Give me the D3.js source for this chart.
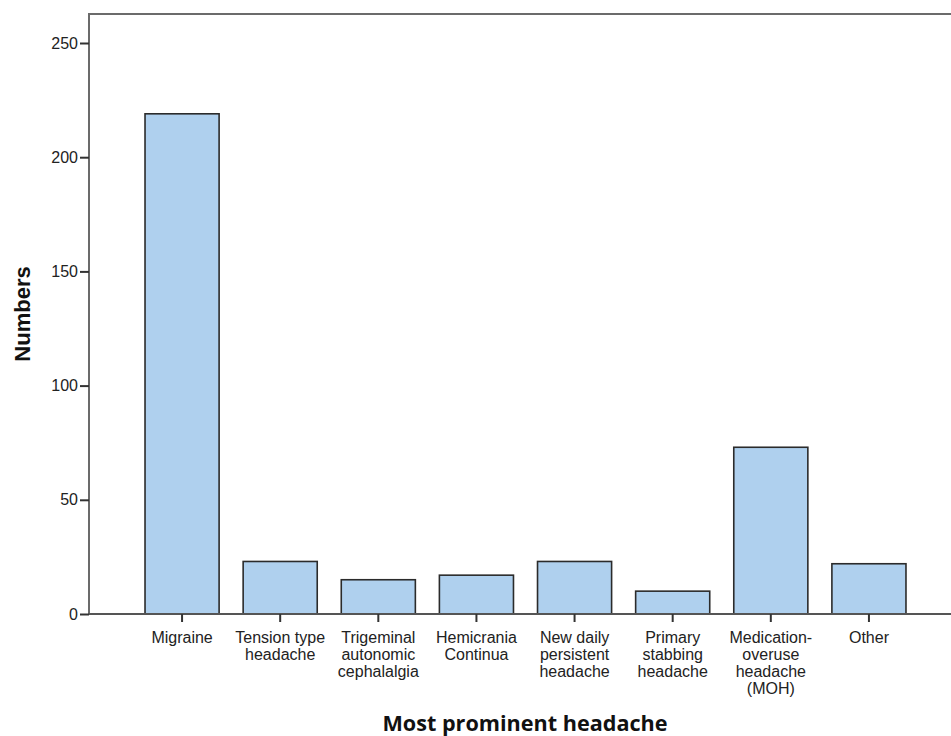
<!DOCTYPE html>
<html><head><meta charset="utf-8">
<script src="https://cdn.jsdelivr.net/npm/d3@7"></script>
<style>body{margin:0;background:#fff}svg{display:block}</style>
</head><body>
<svg id="c" width="951" height="736"></svg>
<script>
const categories = [
  ["Migraine"],
  ["Tension type","headache"],
  ["Trigeminal","autonomic","cephalalgia"],
  ["Hemicrania","Continua"],
  ["New daily","persistent","headache"],
  ["Primary","stabbing","headache"],
  ["Medication-","overuse","headache","(MOH)"],
  ["Other"]
];
const values = [219, 23, 15, 17, 23, 10, 73, 22];
const yTicks = [0, 50, 100, 150, 200, 250];

const svg = d3.select("#c");
const mLeft = 89, mTop = 14, mBottom = 614, mRight = 951;
const FONT = "'Liberation Sans', Arial, sans-serif";
const keys = categories.map(c => c.join(" "));
const x = d3.scaleBand().domain(keys).range([133, 918]).paddingInner(0.245).paddingOuter(0.1225);
const y = d3.scaleLinear().domain([0, 250]).range([mBottom, 43]);

// frame
svg.append("path").attr("d", `M${mLeft},${mBottom}V${mTop}H${mRight}`)
  .attr("fill","none").attr("stroke","#6b6b6b").attr("stroke-width",2);

// bars
svg.selectAll("rect.bar").data(values).join("rect")
  .attr("x",(d,i)=>x(keys[i])).attr("width",x.bandwidth())
  .attr("y",d=>y(d)).attr("height",d=>mBottom-y(d))
  .attr("fill","#afd0ee").attr("stroke","#2b2b2b").attr("stroke-width",1.6);

// y axis
const ya = svg.append("g").attr("transform",`translate(${mLeft},0)`)
  .call(d3.axisLeft(y).tickValues(yTicks).tickSize(9).tickPadding(2).tickSizeOuter(0));
ya.select(".domain").remove();
ya.selectAll("line").attr("stroke","#333").attr("stroke-width",2);
ya.selectAll("text").attr("font-family",FONT).attr("font-size",16).attr("fill","#222");

// x axis
const xa = svg.append("g").attr("transform",`translate(0,${mBottom})`)
  .call(d3.axisBottom(x).tickSize(8).tickFormat(""));
xa.select(".domain").attr("d",`M${mLeft},0H${mRight}`).attr("stroke","#555").attr("stroke-width",2);
xa.selectAll(".tick line").attr("stroke","#333").attr("stroke-width",2);
xa.selectAll(".tick").each(function(d,i){
  const t = d3.select(this).append("text").attr("fill","#222")
    .attr("font-family",FONT).attr("font-size",16)
    .attr("text-anchor","middle");
  categories[i].forEach((line,j)=>{
    t.append("tspan").attr("x",0).attr("y",29+j*17).text(line);
  });
});

// axis titles
svg.append("text").attr("transform","translate(30,314) rotate(-90)")
  .attr("text-anchor","middle").attr("font-family",FONT)
  .attr("font-weight","bold").attr("font-size",22).attr("fill","#111").text("Numbers");
svg.append("text").attr("x",525).attr("y",731)
  .attr("text-anchor","middle").attr("font-family","'Open Sans', sans-serif")
  .attr("font-weight","bold").attr("font-size",20.5)
  .attr("textLength",285).attr("lengthAdjust","spacingAndGlyphs")
  .attr("fill","#111").text("Most prominent headache");
</script>
</body></html>
